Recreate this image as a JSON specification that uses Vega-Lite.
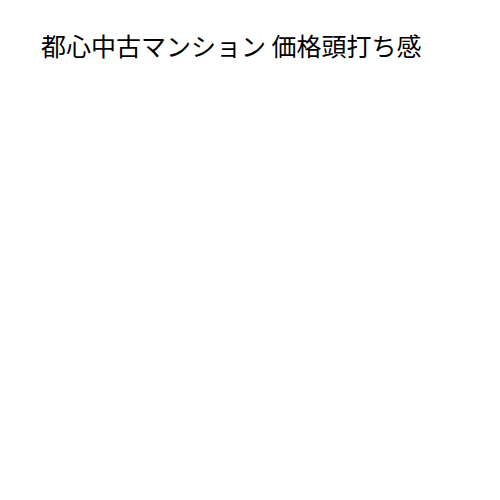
{
  "$schema": "https://vega.github.io/schema/vega-lite/v6.json",
  "autosize": {"type": "fit", "contains": "padding"},
  "width": 500,
  "height": 500,
  "padding": {"left": 41, "top": 36, "right": 10, "bottom": 10},
  "background": "white",
  "title": {
    "text": "都心中古マンション 価格頭打ち感",
    "anchor": "start",
    "font": "Noto Sans CJK JP",
    "fontSize": 25,
    "fontWeight": "normal",
    "color": "#000000"
  },
  "data": {"values": []},
  "mark": {"type": "point"},
  "encoding": {},
  "config": {"view": {"stroke": null}}
}
